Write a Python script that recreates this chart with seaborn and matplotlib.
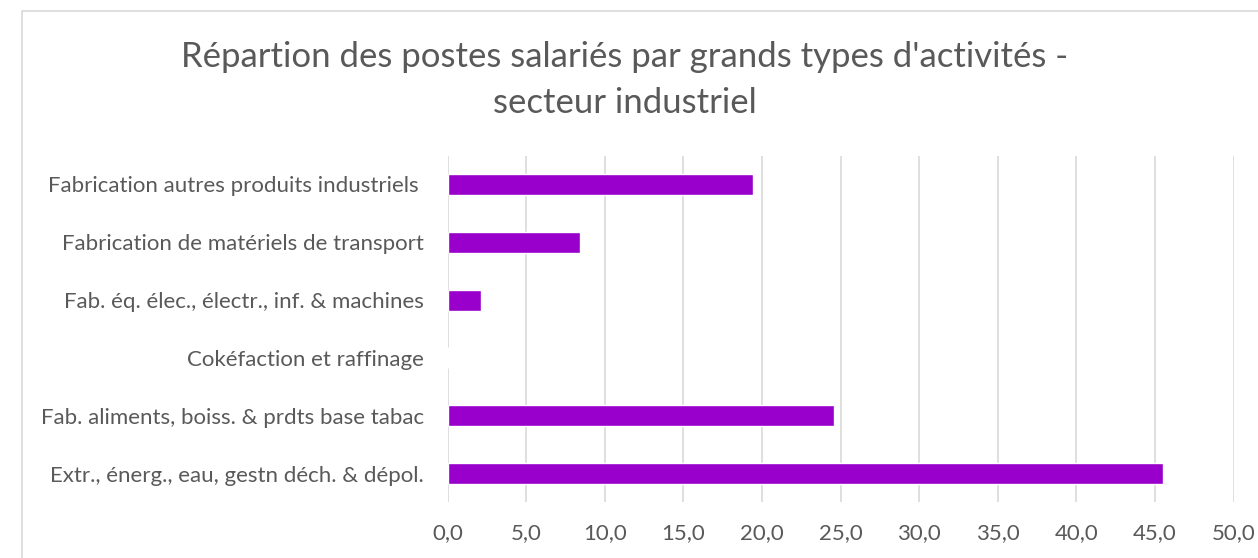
import pandas as pd
import matplotlib.pyplot as plt
import seaborn as sns
from matplotlib.patches import Rectangle

# données (lecture du graphique)
categories = [
    'Fabrication autres produits industriels ',
    'Fabrication de matériels de transport',
    'Fab. éq. élec., électr., inf. & machines',
    'Cokéfaction et raffinage',
    'Fab. aliments, boiss. & prdts base tabac',
    'Extr., énerg., eau, gestn déch. & dépol.',
]
valeurs = [19.4, 8.4, 2.1, 0.0, 24.6, 45.5]
x_ticks = [0, 5, 10, 15, 20, 25, 30, 35, 40, 45, 50]

df = pd.DataFrame({'Activité': categories, 'Part': valeurs})

sns.set_style('white')
plt.rcParams['font.family'] = ['Lato', 'DejaVu Sans']

W, H = 1258, 558
fig = plt.figure(figsize=(W / 100, H / 100), dpi=100)
fig.patch.set_facecolor('white')

# cadre du graphique (coupé à droite et en bas)
fig.patches.append(Rectangle((22 / W, -0.1), 1.2, 1 - 11 / H + 0.1,
                             transform=fig.transFigure, fill=False,
                             edgecolor='#D9D9D9', linewidth=1.2))

ax = fig.add_axes([447.7 / W, 1 - 502.4 / H, 786 / W, 346.8 / H])
sns.barplot(data=df, x='Part', y='Activité', color='#9900CC',
            width=0.363, ax=ax, saturation=1)

ax.set_xlim(0, 50)
ax.set_ylim(5.5, -0.5)
ax.set_xticks(x_ticks)
ax.set_xticklabels([f'{t:.1f}'.replace('.', ',') for t in x_ticks])
ax.set_xlabel('')
ax.set_ylabel('')
ax.grid(axis='x', color='#D9D9D9', linewidth=1.2)
ax.set_axisbelow(True)
for s in ax.spines.values():
    s.set_visible(False)
ax.tick_params(axis='x', length=0, pad=15, labelsize=16, labelcolor='#595959')
ax.tick_params(axis='y', length=0, pad=17, labelsize=16, labelcolor='#595959')

fig.text(625 / W, 1 - 80 / H,
         "Répartion des postes salariés par grands types d'activités -\nsecteur industriel",
         ha='center', va='center', fontsize=25, color='#595959', linespacing=1.55)

fig.savefig('out.png', dpi=100, facecolor='white')
